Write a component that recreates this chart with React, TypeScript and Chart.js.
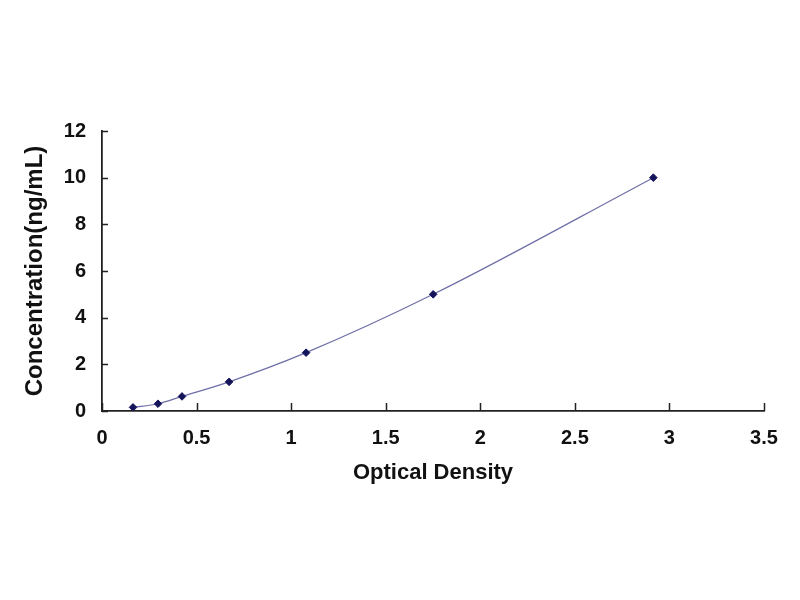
import React, { useEffect, useRef } from "react";
import { Chart, registerables } from "chart.js";

Chart.register(...registerables);

const opticalDensity = [0.164, 0.296, 0.423, 0.672, 1.079, 1.751, 2.915];
const concentration = [0.156, 0.312, 0.625, 1.25, 2.5, 5, 10];
const xTickLabels = ["0", "0.5", "1", "1.5", "2", "2.5", "3", "3.5"];
const yTickLabels = ["0", "2", "4", "6", "8", "10", "12"];

const FONT = "'Liberation Sans', Arial, sans-serif";

const innerTicks = {
  id: "innerTicks",
  afterDraw(chart: any) {
    const ctx = chart.ctx;
    const xs = chart.scales.x;
    const ys = chart.scales.y;
    ctx.save();
    ctx.strokeStyle = "#222";
    ctx.lineWidth = 1.5;
    ctx.beginPath();
    xs.ticks.forEach((t: any) => {
      const px = Math.round(xs.getPixelForValue(t.value)) + 0.5;
      ctx.moveTo(px, xs.top);
      ctx.lineTo(px, xs.top - 8);
    });
    ys.ticks.forEach((t: any) => {
      const py = Math.round(ys.getPixelForValue(t.value)) + 0.5;
      ctx.moveTo(ys.right, py);
      ctx.lineTo(ys.right + 6, py);
    });
    ctx.stroke();
    ctx.restore();
  },
};

export default function App() {
  const ref = useRef<HTMLCanvasElement | null>(null);

  useEffect(() => {
    document.body.style.margin = "0";
    const canvas = ref.current;
    if (!canvas) return;
    const chart = new Chart(canvas, {
      type: "scatter",
      data: {
        datasets: [
          {
            data: opticalDensity.map((x, i) => ({ x, y: concentration[i] })),
            showLine: true,
            borderColor: "#6f6fa8",
            borderWidth: 1.2,
            cubicInterpolationMode: "monotone",
            pointStyle: "rectRot",
            pointRadius: 3.8,
            pointBackgroundColor: "#14145a",
            pointBorderColor: "#14145a",
            pointBorderWidth: 1,
          },
        ],
      },
      options: {
        responsive: false,
        animation: false,
        devicePixelRatio: 1,
        layout: { padding: { top: 131, right: 36, left: 0, bottom: 0 } },
        plugins: {
          legend: { display: false },
          tooltip: { enabled: false },
          title: { display: false },
        },
        scales: {
          x: {
            type: "linear",
            min: 0,
            max: 3.5,
            grid: { display: false, drawTicks: false },
            border: { display: true, color: "#222", width: 1.8 },
            afterFit(scale: any) {
              scale.height = 189;
              scale.paddingLeft = 0;
              scale.paddingRight = 0;
              scale.paddingTop = 0;
              scale.paddingBottom = 0;
            },
            ticks: {
              stepSize: 0.5,
              padding: 15,
              color: "#111",
              maxRotation: 0,
              autoSkip: false,
              font: { family: FONT, size: 20, weight: "bold" },
              callback: (_v: any, i: number) => xTickLabels[i],
            },
            title: {
              display: true,
              text: "Optical Density",
              color: "#111",
              font: { family: FONT, size: 22, weight: "bold" },
              padding: { top: 0, bottom: 114 },
            },
          },
          y: {
            type: "linear",
            min: 0,
            max: 12,
            grid: { display: false, drawTicks: false },
            border: { display: true, color: "#222", width: 1.8 },
            afterFit(scale: any) {
              scale.width = 102;
              scale.paddingLeft = 0;
              scale.paddingRight = 0;
              scale.paddingTop = 0;
              scale.paddingBottom = 0;
            },
            ticks: {
              stepSize: 2,
              padding: 16,
              color: "#111",
              autoSkip: false,
              font: { family: FONT, size: 20, weight: "bold" },
              callback: (_v: any, i: number) => yTickLabels[i],
            },
            title: {
              display: true,
              text: "Concentration(ng/mL)",
              color: "#111",
              font: { family: FONT, size: 24, weight: "bold" },
              padding: { top: 21, bottom: 0 },
            },
          },
        },
      },
      plugins: [innerTicks],
    } as any);
    return () => chart.destroy();
  }, []);

  return (
    <div style={{ width: 800, height: 600, background: "#fff" }}>
      <canvas ref={ref} width={800} height={600} />
    </div>
  );
}
